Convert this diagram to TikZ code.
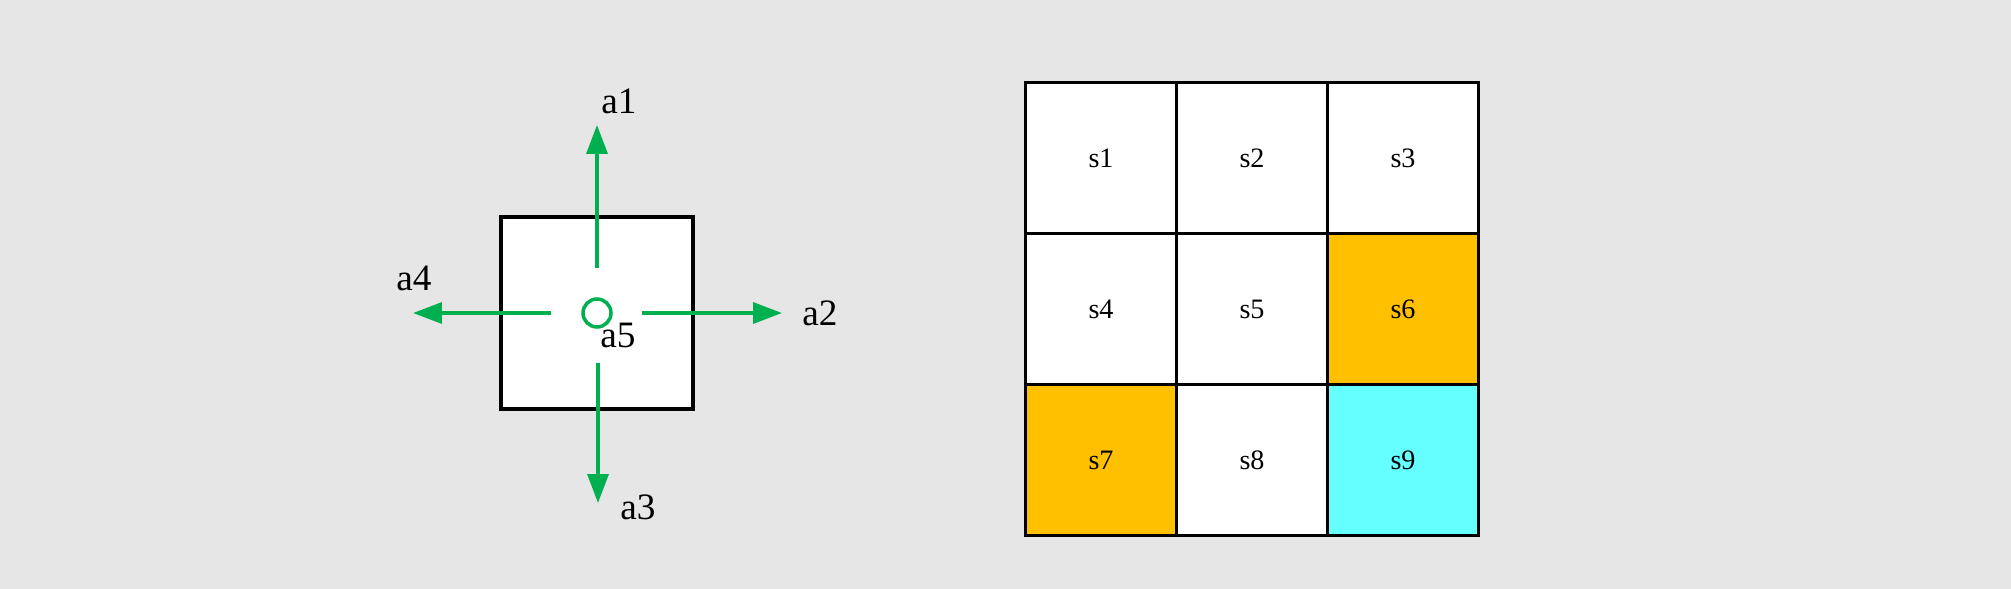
\documentclass[tikz,border=0pt]{standalone}
\usepackage{fontspec}
\setmainfont{Liberation Serif}
\usepackage{xcolor}
\usetikzlibrary{arrows.meta}
\usetikzlibrary{calc}
\definecolor{bggray}{HTML}{E6E6E6}
\definecolor{actgreen}{HTML}{00B050}
\definecolor{trapgold}{HTML}{FFC000}
\definecolor{goalcyan}{HTML}{66FFFF}
\newcommand{\statecell}[4]{
	\node[cell, fill=#4] (#1) at (#2, #3) {#1};
	}
\tikzset{
	cell/.style={draw=black, line width=1.5pt, minimum size=151*0.025cm, inner sep=0pt, font=\fontsize{20}{24}\selectfont},
	actlabel/.style={inner sep=0pt, font=\fontsize{26.5}{30}\selectfont},
	act/.style={actgreen, line width=2.5pt, -{Triangle[length=0.72cm, width=0.52cm]}},
}
\begin{document}
\begin{tikzpicture}[x=0.025cm, y=-0.025cm]

	% background
	\fill[bggray] (0,0) rectangle (2011,589);
	\useasboundingbox (0,0) rectangle (2011,589);

	% agent cell
	\node[draw, fill=white, line width=2.5pt, minimum size=192*0.025cm, inner sep=0pt] (agent) at (597, 313) {};
	\node[circle, draw=actgreen, line width=2.5pt, minimum size=28*0.025cm, inner sep=0pt] (stay) at (597, 313) {};

	\coordinate (up0) at (597, 268);   \coordinate (up1) at (597, 125);
	\coordinate (rt0) at (642, 313);   \coordinate (rt1) at (782, 313);
	\coordinate (dn0) at (598, 363);   \coordinate (dn1) at (598, 503);
	\coordinate (lf0) at (551, 313);   \coordinate (lf1) at (413, 313);

	\draw[act] (up0) -- (up1);
	\draw[act] (rt0) -- (rt1);
	\draw[act] (dn0) -- (dn1);
	\draw[act] (lf0) -- (lf1);

	\path (619, 101) node[actlabel] (a1) {a1}
	(820, 313) node[actlabel] (a2) {a2}
	(638, 507) node[actlabel] (a3) {a3}
	(414, 278) node[actlabel] (a4) {a4}
	(618, 335) node[actlabel] (a5) {a5};

	% grid world
	\statecell{s1}{1101}{158}{white}
	\statecell{s2}{1252}{158}{white}
	\statecell{s3}{1403}{158}{white}
	\statecell{s4}{1101}{309}{white}
	\statecell{s5}{1252}{309}{white}
	\statecell{s6}{1403}{309}{trapgold}
	\statecell{s7}{1101}{460}{trapgold}
	\statecell{s8}{1252}{460}{white}
	\statecell{s9}{1403}{460}{goalcyan}

\end{tikzpicture}
\end{document}
